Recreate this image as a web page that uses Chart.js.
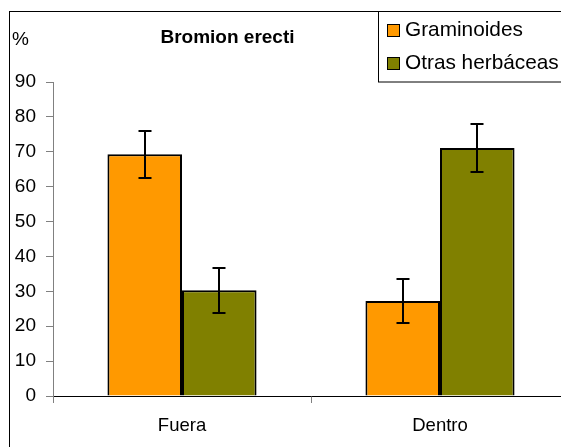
<!DOCTYPE html>
<html>
<head>
<meta charset="utf-8">
<title>Bromion erecti</title>
<script src="https://cdn.jsdelivr.net/npm/chart.js@4"></script>
<style>
    html, body { margin: 0; padding: 0; background: #fff; overflow: hidden; }
    #wrap { position: absolute; left: 0; top: 0; width: 600px; height: 470px; }
</style>
</head>
<body>
<div id="wrap"><canvas id="chart" width="600" height="470"></canvas></div>
<script>
const CATEGORIES = ['Fuera', 'Dentro'];
const SERIES_NAMES = ['Graminoides', 'Otras herbáceas'];
const GRAMINOIDES = [69.3, 27.2];
const GRAMINOIDES_ERR = [6.7, 6.3];
const OTRAS = [30.3, 71.1];
const OTRAS_ERR = [6.5, 7.0];
const Y_TICKS = [0, 10, 20, 30, 40, 50, 60, 70, 80, 90];

const TITLE = 'Bromion erecti';
const Y_UNIT = '%';
const FONT = '"Liberation Sans", Arial, Helvetica, sans-serif';

Chart.defaults.font.family = FONT;
Chart.defaults.font.size = 19;
Chart.defaults.color = '#000';

// white background plus the outer frame of the chart object
const framePlugin = {
    id: 'frame',
    beforeDraw(chart) {
        const ctx = chart.ctx;
        ctx.save();
        ctx.fillStyle = '#fff';
        ctx.fillRect(0, 0, chart.width, chart.height);
        ctx.strokeStyle = '#000';
        ctx.lineWidth = 1;
        ctx.strokeRect(9.5, 11.5, 1000, 1000);
        ctx.restore();
    }
};

// vertical error bars with caps, taken from each dataset's errors array
const errorBarPlugin = {
    id: 'errorBars',
    afterDatasetsDraw(chart) {
        const ctx = chart.ctx;
        const y = chart.scales.y;
        ctx.save();
        ctx.strokeStyle = '#000';
        ctx.lineWidth = 2;
        chart.data.datasets.forEach((ds, i) => {
            const meta = chart.getDatasetMeta(i);
            meta.data.forEach((bar, j) => {
                const v = ds.data[j];
                const e = ds.errors[j];
                const top = Math.round(y.getPixelForValue(v + e));
                const bot = Math.round(y.getPixelForValue(v - e));
                const x = Math.round(bar.x);
                ctx.beginPath();
                ctx.moveTo(x, top);
                ctx.lineTo(x, bot);
                ctx.moveTo(x - 6.5, top);
                ctx.lineTo(x + 6.5, top);
                ctx.moveTo(x - 6.5, bot);
                ctx.lineTo(x + 6.5, bot);
                ctx.stroke();
            });
        });
        ctx.restore();
    }
};

// title, unit label and the boxed legend in the top right corner
const headerPlugin = {
    id: 'header',
    afterDraw(chart) {
        const ctx = chart.ctx;
        ctx.save();
        ctx.fillStyle = '#000';
        ctx.textBaseline = 'alphabetic';

        ctx.font = 'bold 19px ' + FONT;
        ctx.textAlign = 'center';
        ctx.fillText(TITLE, 227.5, 43);

        ctx.font = '19px ' + FONT;
        ctx.textAlign = 'left';
        ctx.fillText(Y_UNIT, 12, 45);

        // legend box
        ctx.fillStyle = '#fff';
        ctx.fillRect(378.5, 11.5, 300, 70.5);
        ctx.strokeStyle = '#000';
        ctx.lineWidth = 1;
        ctx.strokeRect(378.5, 11.5, 300, 70.5);

        const rows = [36, 69];
        chart.data.datasets.forEach((ds, i) => {
            const base = rows[i];
            ctx.fillStyle = ds.backgroundColor;
            ctx.fillRect(387, base - 12, 12, 12);
            ctx.strokeStyle = '#000';
            ctx.strokeRect(387.5, base - 11.5, 12, 12);
            ctx.fillStyle = '#000';
            ctx.font = '20.8px ' + FONT;
            ctx.fillText(ds.label, 405, base);
        });
        ctx.restore();
    }
};

new Chart(document.getElementById('chart'), {
    type: 'bar',
    data: {
        labels: CATEGORIES,
        datasets: [
            {
                label: SERIES_NAMES[0],
                data: GRAMINOIDES,
                errors: GRAMINOIDES_ERR,
                backgroundColor: '#ff9900',
                borderColor: '#000',
                borderWidth: 2,
            },
            {
                label: SERIES_NAMES[1],
                data: OTRAS,
                errors: OTRAS_ERR,
                backgroundColor: '#808000',
                borderColor: '#000',
                borderWidth: 2,
            }
        ]
    },
    options: {
        responsive: false,
        animation: false,
        devicePixelRatio: 1,
        categoryPercentage: 0.578,
        barPercentage: 1,
        layout: {
            padding: { left: 0, top: 82, right: 31, bottom: 0 }
        },
        plugins: {
            legend: { display: false },
            title: { display: false },
            tooltip: { enabled: false }
        },
        scales: {
            x: {
                afterFit(scale) { scale.height = 74; },
                border: { color: '#000', width: 1 },
                grid: {
                    drawOnChartArea: false,
                    drawTicks: true,
                    tickLength: 7,
                    color: '#808080',
                    offset: true,
                },
                ticks: {
                    padding: 12,
                    color: '#000',
                    font: { size: 18.5 },
                }
            },
            y: {
                min: 0,
                max: 90,
                afterFit(scale) { scale.width = 53; },
                afterBuildTicks(scale) {
                    scale.ticks = Y_TICKS.map(v => ({ value: v }));
                },
                border: { color: '#808080', width: 1 },
                grid: {
                    drawOnChartArea: false,
                    drawTicks: true,
                    tickLength: 7,
                    color: '#808080',
                },
                ticks: {
                    padding: 10,
                    color: '#000',
                }
            }
        }
    },
    plugins: [framePlugin, errorBarPlugin, headerPlugin]
});
</script>
</body>
</html>
